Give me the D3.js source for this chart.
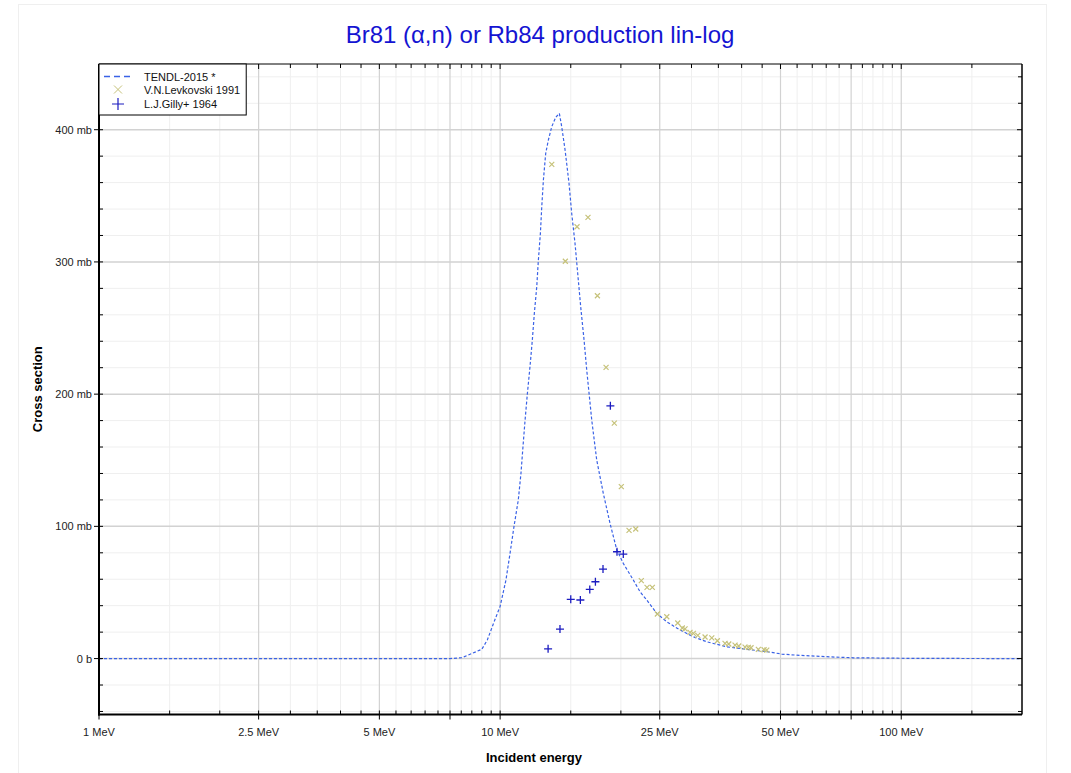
<!DOCTYPE html>
<html>
<head>
<meta charset="utf-8">
<script src="https://cdn.jsdelivr.net/npm/d3@7"></script>
<style>
  html, body { margin: 0; padding: 0; background: #fff; }
  svg { display: block; font-family: Arial, "Liberation Sans", sans-serif; }
</style>
</head>
<body>
<svg id="chart" width="1071" height="773"></svg>
<script>
// ---------- data ----------
const tendlEnergy = [1, 7.5, 8.02, 9.0, 9.29, 9.66, 10.0, 10.34, 10.59, 10.83, 11.10, 11.27, 11.40, 11.54, 11.69, 11.87, 12.03, 12.17, 12.34, 12.45, 12.6, 12.7, 12.82, 12.99, 13.19, 13.45, 13.76, 14.05, 14.24, 14.52, 14.85, 15.08, 15.37, 15.61, 15.88, 16.19, 16.44, 16.92, 17.41, 18.08, 18.79, 19.54, 20.28, 21.48, 22.33, 23.2, 24.57, 26.03, 28.09, 30.32, 32.74, 36.72, 41.19, 46.64, 50.36, 55.95, 65.2, 75.96, 103, 150, 200];
const tendlXs = [0, 0, 0.6, 7.0, 14, 27.8, 39.5, 59.4, 80, 100, 120, 140, 160, 180.4, 200, 220.7, 240.9, 261.1, 281.2, 300.5, 321.6, 341.8, 362, 382, 392.2, 402.3, 409.4, 412.4, 402.3, 384.6, 359.5, 336.8, 314.1, 291.4, 266.1, 240.9, 218.2, 180.4, 150.2, 125.0, 102.3, 82.1, 72.0, 59.4, 50.5, 44.3, 34.2, 27.8, 21.6, 16.5, 12.7, 8.9, 7.0, 5.1, 3.4, 2.4, 1.4, 0.6, 0.2, 0.05, 0];

const levkovskiEnergy = [13.45, 14.54, 15.55, 16.56, 17.48, 18.37, 19.26, 20.05, 20.96, 21.78, 22.49, 23.24, 23.96, 24.66, 26.03, 27.72, 28.46, 28.91, 29.75, 30.32, 31.10, 32.43, 33.70, 34.80, 36.37, 37.15, 38.52, 39.34, 40.80, 41.58, 42.22, 44.03, 45.50, 46.21];
const levkovskiXs = [373.8, 300.5, 326.6, 333.7, 274.4, 220.3, 178.1, 130.0, 97.0, 98.0, 58.9, 53.9, 53.9, 33.7, 31.6, 26.9, 23.1, 22.5, 19.8, 19.1, 17.5, 16.3, 15.7, 13.5, 11.5, 11.0, 10.2, 9.5, 8.7, 8.5, 8.2, 7.0, 6.7, 6.4];

const gillyEnergy = [13.17, 14.10, 15.0, 15.85, 16.73, 17.28, 18.05, 18.83, 19.56, 20.28];
const gillyXs = [7.4, 22.3, 44.8, 44.3, 52.3, 58.1, 67.7, 191.2, 80.8, 79.0];

const xMajorTicks = [1, 2.5, 5, 10, 25, 50, 100];
const xMajorLabels = ["1 MeV", "2.5 MeV", "5 MeV", "10 MeV", "25 MeV", "50 MeV", "100 MeV"];
const xMidTicks = [7.5, 75];
const xMinorTicks = [1.5, 2, 3, 3.5, 4, 4.5, 5.5, 6, 6.5, 7, 8, 8.5, 9, 9.5, 15, 20, 30, 35, 40, 45, 55, 60, 65, 70, 80, 85, 90, 95, 150];
const yMajorTicks = [0, 100, 200, 300, 400];
const yMajorLabels = ["0 b", "100 mb", "200 mb", "300 mb", "400 mb"];
const yMinorTicks = [-40, -20, 20, 40, 60, 80, 120, 140, 160, 180, 220, 240, 260, 280, 320, 340, 360, 380, 420, 440];

const titleText = "Br81 (\u03b1,n) or Rb84 production lin-log";
const xTitle = "Incident energy";
const yTitle = "Cross section";
const legendLabels = ["TENDL-2015 *", "V.N.Levkovski 1991", "L.J.Gilly+ 1964"];

// ---------- layout ----------
const L = 99, R = 1022, T = 64, B = 714.5;
const svg = d3.select("#chart");
const x = d3.scaleLog().domain([1, 200]).range([L, R]);
const y = d3.scaleLinear().domain([-42.3, 449.7]).range([B, T]);

const colLine = "#3a62e6", colLev = "#c6c27a", colGil = "#1c1cc0";

// outer light frame
svg.append("rect").attr("x", 18.5).attr("y", 4.5).attr("width", 1028).attr("height", 800)
  .attr("fill", "none").attr("stroke", "#efefef");

// title
svg.append("text").attr("x", 540).attr("y", 43).attr("text-anchor", "middle")
  .attr("font-size", 24).attr("fill", "#1414d2").text(titleText);

const g = svg.append("g");
// grid
const grid = g.append("g");
grid.selectAll(".yminor").data(yMinorTicks).join("line")
  .attr("x1", L).attr("x2", R).attr("y1", d => y(d)).attr("y2", d => y(d))
  .attr("stroke", "#efefef").attr("stroke-width", 1);
grid.selectAll(".xminor").data(xMinorTicks).join("line")
  .attr("y1", T).attr("y2", B).attr("x1", d => x(d)).attr("x2", d => x(d))
  .attr("stroke", "#efefef").attr("stroke-width", 1);
grid.selectAll(".ymajor").data(yMajorTicks).join("line")
  .attr("x1", L).attr("x2", R).attr("y1", d => y(d)).attr("y2", d => y(d))
  .attr("stroke", "#d2d2d2").attr("stroke-width", 1.5);
grid.selectAll(".xmajor").data(xMajorTicks.concat(xMidTicks)).join("line")
  .attr("y1", T).attr("y2", B).attr("x1", d => x(d)).attr("x2", d => x(d))
  .attr("stroke", "#d2d2d2").attr("stroke-width", 1.2);

// clip
svg.append("clipPath").attr("id", "clip").append("rect")
  .attr("x", L).attr("y", T).attr("width", R - L).attr("height", B - T);
const plot = g.append("g").attr("clip-path", "url(#clip)");

// TENDL line
const tendl = tendlEnergy.map((e, i) => [e, tendlXs[i]]);
plot.append("path").datum(tendl)
  .attr("d", d3.line().x(d => x(d[0])).y(d => y(d[1])))
  .attr("fill", "none").attr("stroke", colLine).attr("stroke-width", 1.2)
  .attr("stroke-dasharray", "3,2");

// Levkovski x markers
const lev = levkovskiEnergy.map((e, i) => [e, levkovskiXs[i]]);
const s = 2.5;
plot.selectAll(".lev").data(lev).join("path")
  .attr("d", d => { const px = x(d[0]), py = y(d[1]);
    return `M${px-s},${py-s}L${px+s},${py+s}M${px-s},${py+s}L${px+s},${py-s}`; })
  .attr("stroke", colLev).attr("stroke-width", 1.2).attr("fill", "none");

// Gilly + markers
const gil = gillyEnergy.map((e, i) => [e, gillyXs[i]]);
const p = 4;
plot.selectAll(".gil").data(gil).join("path")
  .attr("d", d => { const px = x(d[0]), py = y(d[1]);
    return `M${px-p},${py}L${px+p},${py}M${px},${py-p}L${px},${py+p}`; })
  .attr("stroke", colGil).attr("stroke-width", 1.3).attr("fill", "none");

// frame
const fr = g.append("g").attr("stroke", "#000");
fr.append("line").attr("x1", L).attr("x2", L).attr("y1", T).attr("y2", B + 1).attr("stroke-width", 2);
fr.append("line").attr("x1", L - 1).attr("x2", R).attr("y1", B).attr("y2", B).attr("stroke-width", 2);
fr.append("line").attr("x1", R).attr("x2", R).attr("y1", T).attr("y2", B).attr("stroke-width", 1.5);
fr.append("line").attr("x1", L).attr("x2", R).attr("y1", T).attr("y2", T).attr("stroke-width", 1);

// ticks
fr.selectAll(".ytM").data(yMajorTicks).join("line")
  .attr("x1", L - 5).attr("x2", L + 4).attr("y1", d => y(d)).attr("y2", d => y(d));
fr.selectAll(".ytMr").data(yMajorTicks).join("line")
  .attr("x1", R - 5).attr("x2", R).attr("y1", d => y(d)).attr("y2", d => y(d));
fr.selectAll(".ytm").data(yMinorTicks).join("line")
  .attr("x1", L).attr("x2", L + 4).attr("y1", d => y(d)).attr("y2", d => y(d));
fr.selectAll(".ytmr").data(yMinorTicks).join("line")
  .attr("x1", R - 4).attr("x2", R).attr("y1", d => y(d)).attr("y2", d => y(d));
fr.selectAll(".xtM").data(xMajorTicks.concat(xMidTicks)).join("line")
  .attr("y1", B - 4).attr("y2", B + 5).attr("x1", d => x(d)).attr("x2", d => x(d));
fr.selectAll(".xtMt").data(xMajorTicks.concat(xMidTicks)).join("line")
  .attr("y1", T).attr("y2", T + 5).attr("x1", d => x(d)).attr("x2", d => x(d));
fr.selectAll(".xtm").data(xMinorTicks).join("line")
  .attr("y1", B - 4).attr("y2", B).attr("x1", d => x(d)).attr("x2", d => x(d));
fr.selectAll(".xtmt").data(xMinorTicks).join("line")
  .attr("y1", T).attr("y2", T + 4).attr("x1", d => x(d)).attr("x2", d => x(d));

// tick labels
g.selectAll(".ylab").data(yMajorTicks).join("text")
  .attr("x", L - 7).attr("y", d => y(d) + 4).attr("text-anchor", "end")
  .attr("font-size", 11).attr("fill", "#222").text((d, i) => yMajorLabels[i]);
g.selectAll(".xlab").data(xMajorTicks).join("text")
  .attr("x", d => x(d)).attr("y", B + 21).attr("text-anchor", "middle")
  .attr("font-size", 11).attr("fill", "#222").text((d, i) => xMajorLabels[i]);

// axis titles
svg.append("text").attr("x", 534).attr("y", 762).attr("text-anchor", "middle")
  .attr("font-size", 13).attr("font-weight", "bold").text(xTitle);
svg.append("text").attr("transform", `translate(42,${(T + B) / 2}) rotate(-90)`)
  .attr("text-anchor", "middle").attr("font-size", 13).attr("font-weight", "bold").text(yTitle);

// legend
const lg = svg.append("g");
const box = lg.append("rect").attr("x", L).attr("y", T).attr("height", 51)
  .attr("fill", "#fff").attr("stroke", "#000").attr("stroke-width", 1);
const rows = [76.5, 89.5, 104];
lg.append("line").attr("x1", 104).attr("x2", 132).attr("y1", rows[0]).attr("y2", rows[0])
  .attr("stroke", colLine).attr("stroke-width", 1.5).attr("stroke-dasharray", "6,4");
lg.append("path").attr("d", `M${118-4},${rows[1]-4}L${118+4},${rows[1]+4}M${118-4},${rows[1]+4}L${118+4},${rows[1]-4}`)
  .attr("stroke", colLev).attr("stroke-width", 1);
lg.append("path").attr("d", `M${118-6},${rows[2]}L${118+6},${rows[2]}M118,${rows[2]-6}L118,${rows[2]+6}`)
  .attr("stroke", colGil).attr("stroke-width", 1.2);
const lt = lg.selectAll(".lt").data(legendLabels).join("text")
  .attr("x", 144).attr("y", (d, i) => rows[i] + 4).attr("font-size", 11).attr("fill", "#111").text(d => d);
let maxEnd = 0;
lt.each(function() { const b = this.getBBox(); maxEnd = Math.max(maxEnd, b.x + b.width); });
box.attr("width", maxEnd + 6 - L);
</script>
</body>
</html>
